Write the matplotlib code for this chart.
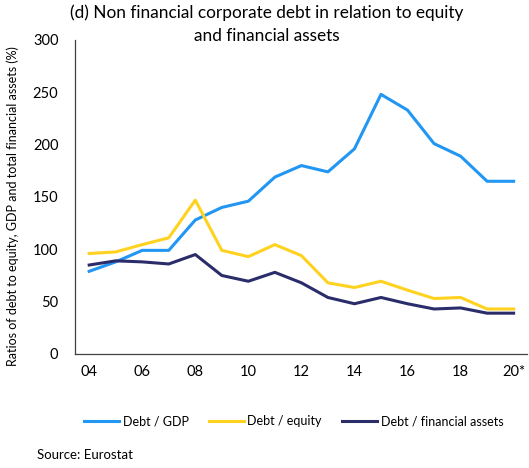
import matplotlib
matplotlib.use("Agg")
import matplotlib.pyplot as plt

# ---------- data ----------
years = list(range(2004, 2021))
tick_years = [2004, 2006, 2008, 2010, 2012, 2014, 2016, 2018, 2020]
tick_labels = ["04", "06", "08", "10", "12", "14", "16", "18", "20*"]

debt_gdp = [79, 88, 99, 99, 128, 140, 146, 169, 180, 174, 196, 248, 233, 201, 189, 165, 165]
debt_equity = [96, 97.5, 104.5, 111, 147, 99, 93, 104.5, 94, 68, 63.5, 69.5, 61, 53, 54, 43, 43]
debt_fin_assets = [85, 89, 88, 86, 95, 75, 69.5, 78, 68, 54, 48, 54, 48, 43, 44, 39, 39]

c_blue = "#2196f3"
c_yellow = "#ffd21f"
c_navy = "#2b2d6b"

plt.rcParams["font.family"] = ["Lato", "DejaVu Sans"]

fig = plt.figure(figsize=(5.29, 4.68), dpi=100)
ax = fig.add_axes([0.142, 0.2436, 0.854, 0.671])

ax.plot(years, debt_gdp, color=c_blue, lw=2.2, label="Debt / GDP")
ax.plot(years, debt_equity, color=c_yellow, lw=2.2, label="Debt / equity")
ax.plot(years, debt_fin_assets, color=c_navy, lw=2.2, label="Debt / financial assets")

ax.set_xlim(2003.47, 2020.5)
ax.set_ylim(0, 300)
ax.set_yticks(range(0, 301, 50))
ax.set_xticks(tick_years)
ax.set_xticklabels(tick_labels)
ax.tick_params(length=0, labelsize=10.5, pad=8)
ax.tick_params(axis="y", pad=12)
for s in ["top", "right"]:
    ax.spines[s].set_visible(False)
for s in ["left", "bottom"]:
    ax.spines[s].set_color("#404040")
    ax.spines[s].set_linewidth(0.9)

ax.set_ylabel("Ratios of debt to equity, GDP and total financial assets (%)",
              fontsize=9, labelpad=10)
ax.yaxis.set_label_coords(-0.125, 0.47)

fig.text(0.505, 0.99, "(d) Non financial corporate debt in relation to equity\nand financial assets",
         ha="center", va="top", fontsize=12.4, linespacing=1.55)

fig.legend(loc="center", bbox_to_anchor=(0.555, 0.1), ncol=3, frameon=False,
           fontsize=9, handlelength=2.8, columnspacing=1.6, handletextpad=0.3)

fig.text(0.07, 0.027, "Source: Eurostat", ha="left", va="center", fontsize=9.5)

fig.savefig("out.png", dpi=100)
